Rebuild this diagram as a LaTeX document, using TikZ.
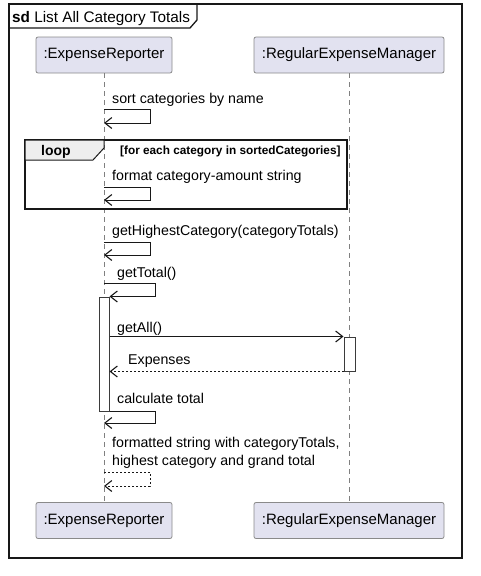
\documentclass[tikz,border=0pt]{standalone}
\usepackage{fontspec}
\setmainfont{Liberation Sans}
\usetikzlibrary{arrows.meta}

\definecolor{partfill}{HTML}{E2E2F0}
\definecolor{partline}{HTML}{8A8A8A}
\definecolor{tabfill}{HTML}{EEEEEE}
\definecolor{ink}{HTML}{181818}

\tikzset{
  participant/.style={draw=partline,fill=partfill,rounded corners=2pt,minimum height=36pt,
    line width=0.8pt,font=\fontsize{15}{17}\selectfont},
  lifeline/.style={draw=gray,dash pattern=on 5pt off 4pt,line width=0.6pt},
  msg/.style={draw=ink,line width=0.9pt,-{Straight Barb[length=7pt,width=11pt,line width=1.1pt]}},
  reply/.style={msg,dash pattern=on 2pt off 2pt},
  msgtext/.style={anchor=base west,inner sep=0pt,font=\fontsize{14.2}{18.5}\selectfont},
  activation/.style={draw=ink!85,fill=white,line width=1pt,inner sep=0pt},
  frameline/.style={draw=ink,line width=1.3pt}
}

\begin{document}
\begin{tikzpicture}[x=1pt,y=-1pt]
  \useasboundingbox (0,0) rectangle (481,576);

  % participants
  \node[participant,minimum width=136pt] (er) at (104,55) {:ExpenseReporter};
  \node[participant,minimum width=190pt] (rem) at (349,55) {:RegularExpenseManager};
  \node[participant,minimum width=136pt] (erb) at (104,520.5) {:ExpenseReporter};
  \node[participant,minimum width=190pt] (remb) at (349,520.5) {:RegularExpenseManager};

  % lifelines
  \draw[lifeline] (er.south) -- (erb.north);
  \draw[lifeline] (rem.south) -- (remb.north);

  % outer frame
  \draw[frameline] (9,4) rectangle (462,558);
  \draw[frameline] (9,28) -- (190,28) -- (197,20) -- (197,4);
  \node[anchor=base west,inner sep=0pt,font=\fontsize{15.3}{17}\selectfont] (title) at (12,22)
    {\textbf{sd} List All Category Totals};

  % sort
  \coordinate (s1) at (104,109);
  \coordinate (e1) at (104,123);
  \node[msgtext] (m1) at (112,103) {sort categories by name};
  \draw[msg] (s1) -- ++(46,0) |- (e1);

  % loop fragment
  \draw[frameline] (25,140) rectangle (347,209);
  \draw[frameline,fill=tabfill,line width=1pt] (25,140) -- (104,140) -- (104,148) -- (93,160) -- (25,160) -- cycle;
  \node[anchor=base west,inner sep=0pt,font=\fontsize{14}{16}\selectfont\bfseries] (loop) at (41,155) {loop};
  \node[anchor=base west,inner sep=0pt,font=\fontsize{11.8}{13}\selectfont\bfseries] (guard) at (120,154)
    {[for each category in sortedCategories]};
  \coordinate (s2) at (104,187);
  \coordinate (e2) at (104,200);
  \node[msgtext] (m2) at (112,180) {format category-amount string};
  \draw[msg] (s2) -- ++(46,0) |- (e2);

  % highest category
  \coordinate (s3) at (104,242);
  \coordinate (e3) at (104,255);
  \node[msgtext] (m3) at (112,235) {getHighestCategory(categoryTotals)};
  \draw[msg] (s3) -- ++(46,0) |- (e3);

  % activations
  \node[activation,minimum width=10pt,minimum height=114pt] (act1) at (104,354) {};
  \node[activation,minimum width=11pt,minimum height=34pt] (act2) at (349.5,354) {};

  % getTotal
  \coordinate (s4) at (104,283);
  \node[msgtext] (m4) at (117,277) {getTotal()};
  \draw[msg] (s4) -- ++(51,0) |- (act1.north east);

  % getAll / Expenses
  \node[msgtext] (m5) at (117,332) {getAll()};
  \draw[msg] (act1.east |- act2.north west) -- (act2.north west);
  \node[msgtext] (m6) at (128,364) {Expenses};
  \draw[reply] (act2.south west) -- (act1.east |- act2.south west);

  % calculate total
  \coordinate (e7) at (104,423);
  \node[msgtext] (m7) at (117,403) {calculate total};
  \draw[msg] (act1.south east) -- ++(46,0) |- (e7);

  % result
  \coordinate (s8) at (104,472);
  \coordinate (e8) at (104,486);
  \node[msgtext,anchor=north west,align=left] (m8) at (112,437)
    {formatted string with categoryTotals,\\highest category and grand total};
  \draw[reply] (s8) -- ++(46,0) |- (e8);
\end{tikzpicture}
\end{document}
